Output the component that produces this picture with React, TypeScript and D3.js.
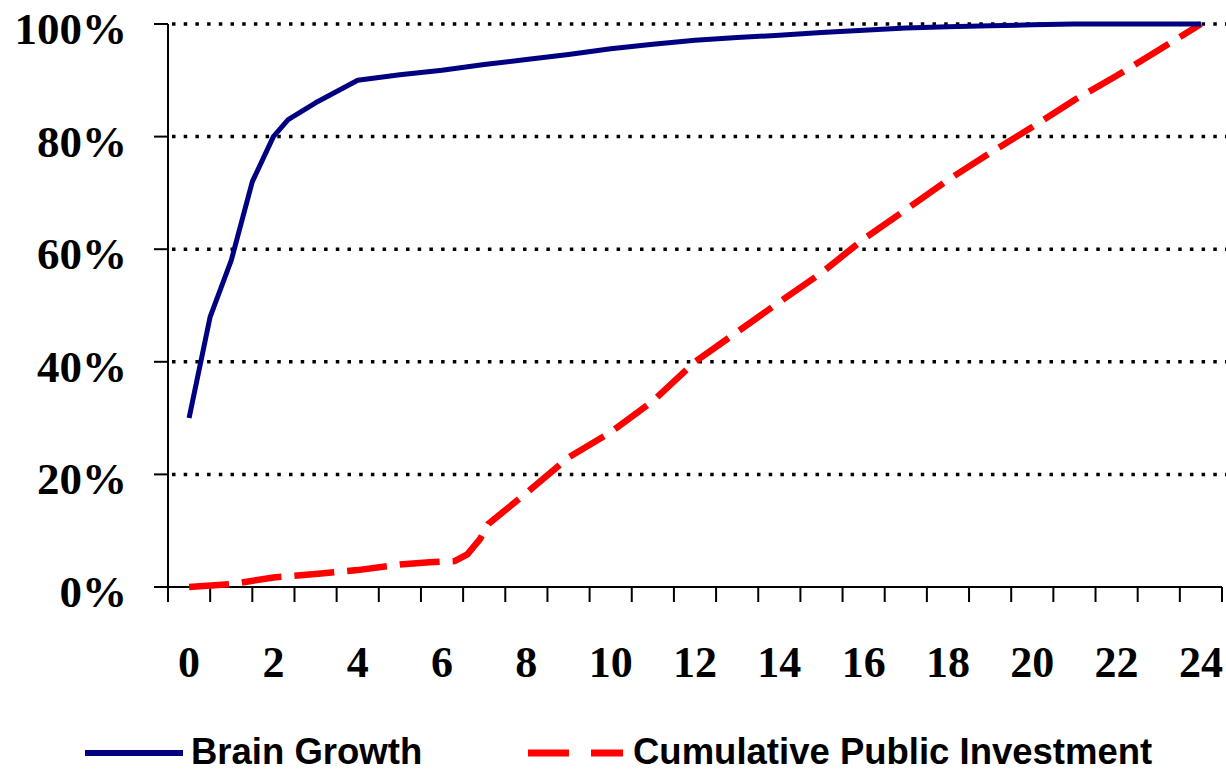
import React from "react";
import * as d3 from "d3";

const brainYears = [0, 0.5, 1, 1.5, 2, 2.35, 3, 4, 5, 6, 7, 8, 9, 10, 11, 12, 13, 14, 15, 16, 17, 18, 19, 20, 21, 22, 23, 24];
const brainValues = [30, 48, 58, 72, 80, 83, 86, 90, 91, 91.8, 92.8, 93.7, 94.6, 95.6, 96.4, 97.1, 97.6, 98, 98.5, 98.9, 99.3, 99.5, 99.7, 99.85, 100, 100, 100, 100];

const investYears = [0, 1, 2, 3, 4, 5, 5.7, 6.3, 6.6, 6.9, 7.1, 8, 9, 10, 11, 12, 13, 14, 15, 16, 17, 18, 19, 20, 21, 22, 23, 24];
const investValues = [0, 0.5, 1.7, 2.3, 3, 4, 4.4, 4.6, 5.8, 8.5, 11.2, 16.7, 23, 27.5, 33, 40, 45.3, 50.6, 55.8, 61.8, 67, 72.3, 77.1, 81.7, 86.5, 90.8, 95.4, 100];

const yTicks = [0, 20, 40, 60, 80, 100];
const xLabels = [0, 2, 4, 6, 8, 10, 12, 14, 16, 18, 20, 22, 24];
const categoryCount = 25;
const seriesNames = ["Brain Growth", "Cumulative Public Investment"];

export default function App() {
  const W = 1226, H = 774;
  const left = 168, right = 1222, top = 24, bottom = 587;
  const x = d3.scaleLinear().domain([-0.5, categoryCount - 0.5]).range([left, right]);
  const y = d3.scaleLinear().domain([0, 100]).range([bottom, top]);
  const line = d3.line<[number, number]>().x(d => x(d[0])).y(d => y(d[1]));
  const brainPath = line(brainYears.map((t, i) => [t, brainValues[i]] as [number, number])) || "";
  const investPath = line(investYears.map((t, i) => [t, investValues[i]] as [number, number])) || "";
  const tickPositions = d3.range(categoryCount + 1).map(i => x(i - 0.5));
  const serif = "'Liberation Serif', 'Times New Roman', serif";
  const sans = "'Liberation Sans', Arial, sans-serif";

  return (
    <svg width={W} height={H} style={{ position: "absolute", left: 0, top: 0, background: "#fff" }}>
      {yTicks.filter(v => v > 0).map(v => (
        <line key={"g" + v} x1={left + 4} x2={W} y1={y(v)} y2={y(v)} stroke="#000" strokeWidth={3.5} strokeDasharray="3.5 8.2" />
      ))}
      <line x1={left} x2={left} y1={top} y2={bottom + 15} stroke="#000" strokeWidth={2} />
      {yTicks.map(v => (
        <g key={"y" + v}>
          <line x1={left - 14} x2={left} y1={y(v)} y2={y(v)} stroke="#000" strokeWidth={2} />
          <text x={127} y={y(v) + 20} textAnchor="end" fontFamily={serif} fontWeight="bold" fontSize={45} fill="#000">{v}%</text>
        </g>
      ))}
      <line x1={left - 14} x2={right} y1={bottom} y2={bottom} stroke="#000" strokeWidth={2} />
      {tickPositions.map((p, i) => (
        <line key={"t" + i} x1={p} x2={p} y1={bottom} y2={bottom + 15} stroke="#000" strokeWidth={2} />
      ))}
      {xLabels.map(v => (
        <text key={"x" + v} x={x(v)} y={677} textAnchor="middle" fontFamily={serif} fontWeight="bold" fontSize={44} fill="#000">{v}</text>
      ))}
      <path d={investPath} fill="none" stroke="#ff0000" strokeWidth={6.5} strokeDasharray="40 13" />
      <path d={brainPath} fill="none" stroke="#000080" strokeWidth={5} strokeLinejoin="round" />
      <line x1={85} x2={183} y1={753} y2={753} stroke="#000080" strokeWidth={6} />
      <text x={191} y={764} fontFamily={sans} fontWeight="bold" fontSize={36.5} fill="#000">{seriesNames[0]}</text>
      <line x1={528} x2={623} y1={753} y2={753} stroke="#ff0000" strokeWidth={7} strokeDasharray="41 22" />
      <text x={633} y={764} fontFamily={sans} fontWeight="bold" fontSize={36.5} fill="#000">{seriesNames[1]}</text>
    </svg>
  );
}
